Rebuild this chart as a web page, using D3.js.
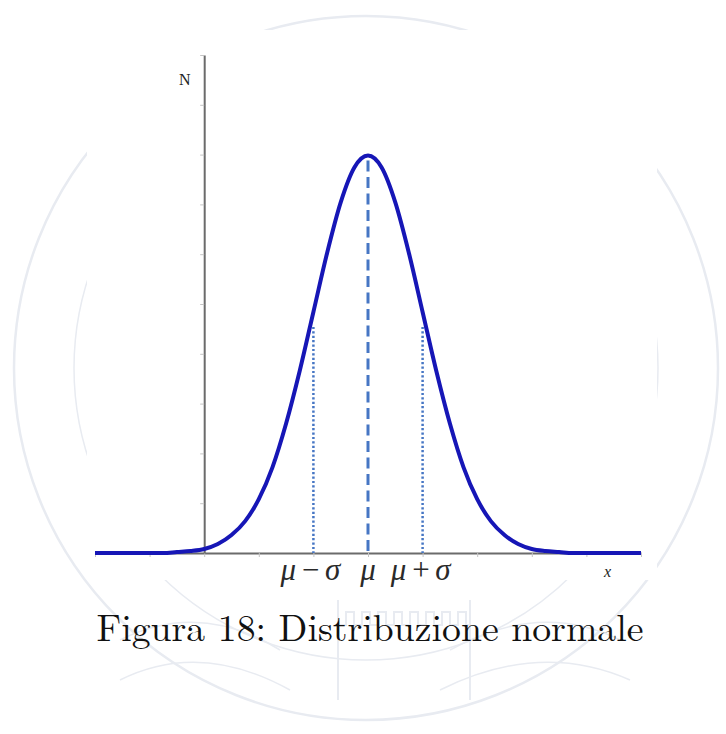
<!DOCTYPE html>
<html>
<head>
<meta charset="utf-8">
<script src="https://cdn.jsdelivr.net/npm/d3@7"></script>
<style>
  html, body { margin: 0; padding: 0; background: #fff; }
  svg { display: block; }
</style>
</head>
<body>
<svg id="fig" width="726" height="734"></svg>
<script>
// Normal density read at regular x steps (symmetric around the mean)
const curveX = [-5, -4.5, -4, -3.75, -3.5, -3.25, -3, -2.75, -2.5, -2.25, -2, -1.75, -1.5, -1.25, -1, -0.75, -0.5, -0.25, 0,
                0.25, 0.5, 0.75, 1, 1.25, 1.5, 1.75, 2, 2.25, 2.5, 2.75, 3, 3.25, 3.5, 3.75, 4, 4.5, 5];
const curveY = [0, 0, 0, 0, 0.001, 0.002, 0.004, 0.009, 0.018, 0.032, 0.054, 0.086, 0.130, 0.183, 0.242, 0.301, 0.352, 0.387, 0.399,
                0.387, 0.352, 0.301, 0.242, 0.183, 0.130, 0.086, 0.054, 0.032, 0.018, 0.009, 0.004, 0.002, 0.001, 0, 0, 0, 0];

// Reference lines at mu - sigma, mu, mu + sigma
const markerX = [-1, 0, 1];
const markerTop = [0.227, 0.394, 0.227];
const markerLabels = ["μ−σ", "μ", "μ+σ"];
const markerKind = ["dotted", "dashed", "dotted"];

const xTicks = [-5, -4, -3, -2, -1, 0, 1, 2, 3, 4, 5];
const yTicks = [0.05, 0.1, 0.15, 0.2, 0.25, 0.3, 0.35, 0.4, 0.45, 0.5];
const yAxisAt = -3;
const caption = "Figura 18: Distribuzione normale";

const SERIF = '"Liberation Serif", "Times New Roman", serif';
const LATEX = '"Latin Modern Roman", "CMU Serif", serif';

const svg = d3.select("#fig");

// Faint seal in the page background
const seal = svg.append("g").attr("fill", "none").attr("stroke", "#e8ebf1");
seal.append("circle").attr("cx", 366).attr("cy", 368).attr("r", 352).attr("stroke-width", 2.5);
seal.append("circle").attr("cx", 366).attr("cy", 368).attr("r", 292).attr("stroke-width", 1.5);
// Seal building outline at the bottom
seal.append("path")
  .attr("stroke-width", 2)
  .attr("d", "M338,600 L338,700 M470,600 L470,700 M338,625 " +
       d3.range(0, 8).map(i => `L${346 + i * 16},625 L${346 + i * 16},612 L${354 + i * 16},612 L${354 + i * 16},625`).join(" ") +
       " L470,625");
seal.append("path").attr("stroke-width", 1.5)
  .attr("d", "M120,640 Q200,600 280,650 M120,680 Q200,640 290,690 M450,650 Q540,600 620,640 M440,690 Q540,640 630,680");

// White panel behind the plot
svg.append("rect").attr("x", 87).attr("y", 30).attr("width", 570).attr("height", 550).attr("fill", "#fff");

const x = d3.scaleLinear().domain([-5, 5]).range([95, 641]);
const y = d3.scaleLinear().domain([0, 0.5]).range([553, 55]);

// X axis
const xAxis = d3.axisBottom(x).tickValues(xTicks).tickFormat("").tickSize(4).tickSizeOuter(0);
const gx = svg.append("g").attr("transform", `translate(0,${y(0)})`).call(xAxis);
gx.select(".domain").attr("stroke", "#6b6b6b").attr("stroke-width", 2);
gx.selectAll(".tick line").attr("stroke", "#c4c4c4").attr("stroke-width", 1);

// Y axis
const yAxis = d3.axisLeft(y).tickValues(yTicks).tickFormat("").tickSize(4).tickSizeOuter(0);
const gy = svg.append("g").attr("transform", `translate(${x(yAxisAt)},0)`).call(yAxis);
gy.select(".domain").attr("stroke", "#6b6b6b").attr("stroke-width", 2);
gy.selectAll(".tick line").attr("stroke", "#c4c4c4").attr("stroke-width", 1);

// Reference lines
svg.append("g").selectAll("line").data(markerX).join("line")
  .attr("x1", d => x(d)).attr("x2", d => x(d))
  .attr("y1", (d, i) => y(markerTop[i])).attr("y2", y(0))
  .attr("stroke", "#4676c4")
  .attr("stroke-width", (d, i) => markerKind[i] === "dashed" ? 3 : 2.5)
  .attr("stroke-dasharray", (d, i) => markerKind[i] === "dashed" ? "11,5.5" : "2.2,2.2");

// Density curve
const line = d3.line().x(d => x(d[0])).y(d => y(d[1])).curve(d3.curveMonotoneX);
svg.append("path")
  .datum(curveX.map((v, i) => [v, curveY[i]]))
  .attr("d", line)
  .attr("fill", "none")
  .attr("stroke", "#1616b6")
  .attr("stroke-width", 4)
  .attr("stroke-linejoin", "round");

// Labels under the axis
svg.append("g").selectAll("text").data(markerX).join("text")
  .attr("x", (d, i) => x(d) + [-1, 0, 0][i])
  .attr("y", 580)
  .attr("text-anchor", "middle")
  .style("font-family", SERIF)
  .style("font-style", "italic")
  .style("font-size", "31px")
  .style("letter-spacing", (d, i) => i === 1 ? "0px" : "4px")
  .attr("fill", "#2a2a2a")
  .text((d, i) => markerLabels[i]);

// Axis names
svg.append("text").attr("x", 179).attr("y", 85)
  .style("font-family", SERIF).style("font-size", "16px").attr("fill", "#222").text("N");
svg.append("text").attr("x", 604).attr("y", 577)
  .style("font-family", SERIF).style("font-style", "italic").style("font-size", "16px")
  .attr("fill", "#222").text("x");

// Caption, sized to span the figure width
const cap = svg.append("text").attr("x", 370).attr("y", 641)
  .attr("text-anchor", "middle")
  .style("font-family", LATEX)
  .style("font-size", "34px").attr("fill", "#111").text(caption);
const w = cap.node().getComputedTextLength();
cap.style("font-size", (34 * 547 / w) + "px");
</script>
</body>
</html>
